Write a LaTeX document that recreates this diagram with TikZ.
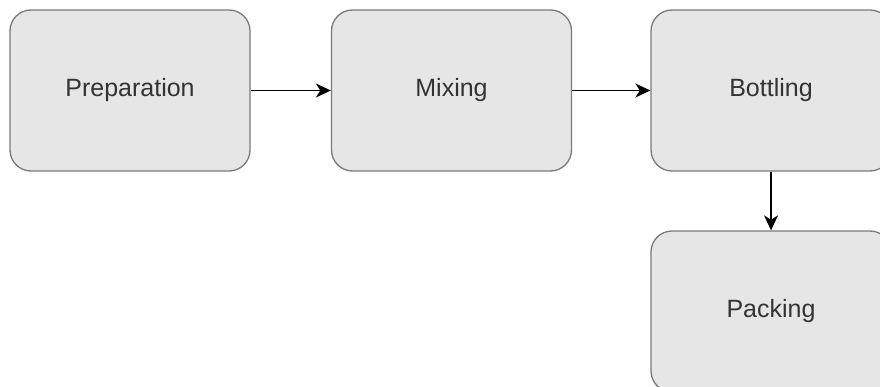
\documentclass[tikz,border=0pt]{standalone}
\usepackage{fontspec}
\setmainfont{Liberation Sans}
\usetikzlibrary{arrows.meta}
\definecolor{boxfill}{HTML}{E6E6E6}
\definecolor{boxline}{HTML}{7A7A7A}
\definecolor{boxtext}{HTML}{333333}
\tikzset{
  stepbox/.style={draw=boxline, fill=boxfill, line width=1.3pt, rounded corners=21pt,
    minimum width=240pt, minimum height=161pt, inner sep=0pt,
    text=boxtext, font=\fontsize{25}{30}\selectfont},
  flow/.style={draw=black, line width=1.8pt, -{Stealth[length=15pt,width=14pt,inset=4.5pt]}}
}
\begin{document}
\begin{tikzpicture}[x=1pt,y=-1pt]
\useasboundingbox (0,0) rectangle (880,387);
\clip (0,0) rectangle (880,387);
\fill[white] (0,0) rectangle (880,387);
\node[stepbox] (prep) at (130,90.5) {\raisebox{-2pt}{Preparation}};
\node[stepbox] (mix) at (451.5,90.5) {\raisebox{-2pt}{Mixing}};
\node[stepbox] (bott) at (771,90.5) {\raisebox{-2pt}{Bottling}};
\node[stepbox] (pack) at (771,311.5) {\raisebox{-2pt}{Packing}};
\draw[flow] (prep.east) -- (mix.west);
\draw[flow] (mix.east) -- (bott.west);
\draw[flow] (bott.south) -- (pack.north);
\end{tikzpicture}
\end{document}
